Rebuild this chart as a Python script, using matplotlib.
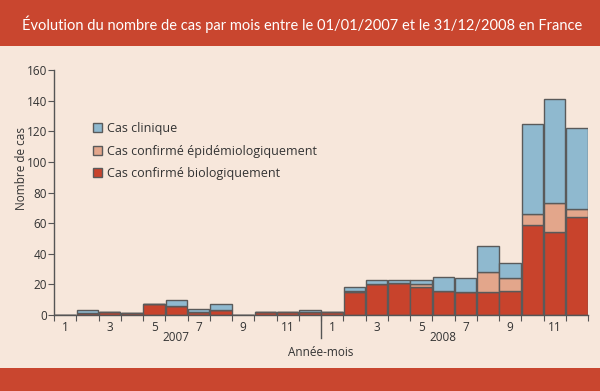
import numpy as np
import matplotlib.pyplot as plt
from matplotlib.patches import Rectangle

plt.rcParams['font.family'] = ['Open Sans', 'DejaVu Sans']

# monthly case counts, Jan 2007 -> Dec 2008
month_labels = ['1', '', '3', '', '5', '', '7', '', '9', '', '11', ''] * 2
years = ['2007', '2008']
bio = [0, 1, 2, 1, 7, 6, 2, 3, 0, 2, 2, 2,
       2, 15, 20, 21, 18, 16, 15, 15, 16, 59, 54, 64]
epi = [0, 0, 0, 0, 0, 0, 0, 0, 0, 0, 0, 0,
       0, 1, 0, 0, 2, 0, 0, 13, 8, 7, 19, 5]
clin = [0, 2, 0, 0, 0, 4, 2, 4, 0, 0, 0, 1,
        0, 2, 3, 2, 3, 9, 9, 17, 10, 59, 68, 53]

bg = '#f7e7db'
red_band = '#c9462f'
c_clin = '#8fb9cf'
c_epi = '#e3a68b'
c_bio = '#c8432c'
edge = '#5a5a5a'
txt = '#333333'

fig = plt.figure(figsize=(6, 3.91), dpi=100, facecolor=bg)
fig.patches.append(Rectangle((0, 1 - 46 / 391), 1, 46 / 391, transform=fig.transFigure,
                             facecolor=red_band, edgecolor='none', zorder=0))
fig.patches.append(Rectangle((0, 0), 1, 23 / 391, transform=fig.transFigure,
                             facecolor=red_band, edgecolor='none', zorder=0))
title = fig.text(22 / 600, 1 - 24 / 391,
                 'Évolution du nombre de cas par mois entre le 01/01/2007 et le 31/12/2008 en France',
                 color='white', fontsize=11, va='center', ha='left',
                 family=['Lato', 'DejaVu Sans'])
# fit the title to the header width
r = fig.canvas.get_renderer()
w = title.get_window_extent(r).width
title.set_fontsize(11 * 556 / w)

ax = fig.add_axes([54 / 600, 1 - 315 / 391, 534 / 600, 245 / 391])
ax.set_facecolor(bg)

x = np.arange(len(bio))
bio = np.array(bio)
epi = np.array(epi)
clin = np.array(clin)
b1 = ax.bar(x, bio, width=0.96, color=c_bio, edgecolor=edge, linewidth=1,
            label='Cas confirmé biologiquement')
b2 = ax.bar(x, epi, bottom=bio, width=0.96, color=c_epi, edgecolor=edge, linewidth=1,
            label='Cas confirmé épidémiologiquement')
b3 = ax.bar(x, clin, bottom=bio + epi, width=0.96, color=c_clin, edgecolor=edge, linewidth=1,
            label='Cas clinique')

ax.set_xlim(-0.5, 23.5)
ax.set_ylim(0, 160)
ax.set_yticks(range(0, 161, 20))
for s in ['top', 'right']:
    ax.spines[s].set_visible(False)
for s in ['left', 'bottom']:
    ax.spines[s].set_color('#555555')
    ax.spines[s].set_linewidth(1)

# ticks at bar edges, labels at month centres
ax.set_xticks(np.arange(-0.5, 24, 1))
ax.set_xticklabels([])
ax.set_xticks(x, minor=True)
ax.set_xticklabels(month_labels, minor=True)
ax.tick_params(axis='x', which='major', length=4, color='#555555')
ax.tick_params(axis='x', which='minor', length=0, pad=4, labelsize=8.5, labelcolor=txt)
ax.tick_params(axis='y', length=4, color='#555555', labelsize=8.5, labelcolor=txt, pad=1)

# year divider
ax.plot([11.5, 11.5], [0, -15], color='#555555', lw=1, clip_on=False)
ax.text(5, -14.5, years[0], ha='center', va='center', fontsize=8.5, color=txt)
ax.text(17, -14.5, years[1], ha='center', va='center', fontsize=8.5, color=txt)
ax.text(11.5, -24.5, 'Année-mois', ha='center', va='center', fontsize=8.5, color=txt)

fig.text(22 / 600, 1 - 169 / 391, 'Nombre de cas', rotation=90, ha='center', va='center',
         fontsize=8.5, color=txt)

leg = ax.legend(handles=[b3, b2, b1], loc='upper left', bbox_to_anchor=(0.0525, 0.833),
                frameon=False, fontsize=9, handlelength=0.7, handleheight=0.7,
                handletextpad=0.4, labelspacing=0.75, labelcolor=txt)

fig.savefig('out.png', dpi=100, facecolor=bg)
